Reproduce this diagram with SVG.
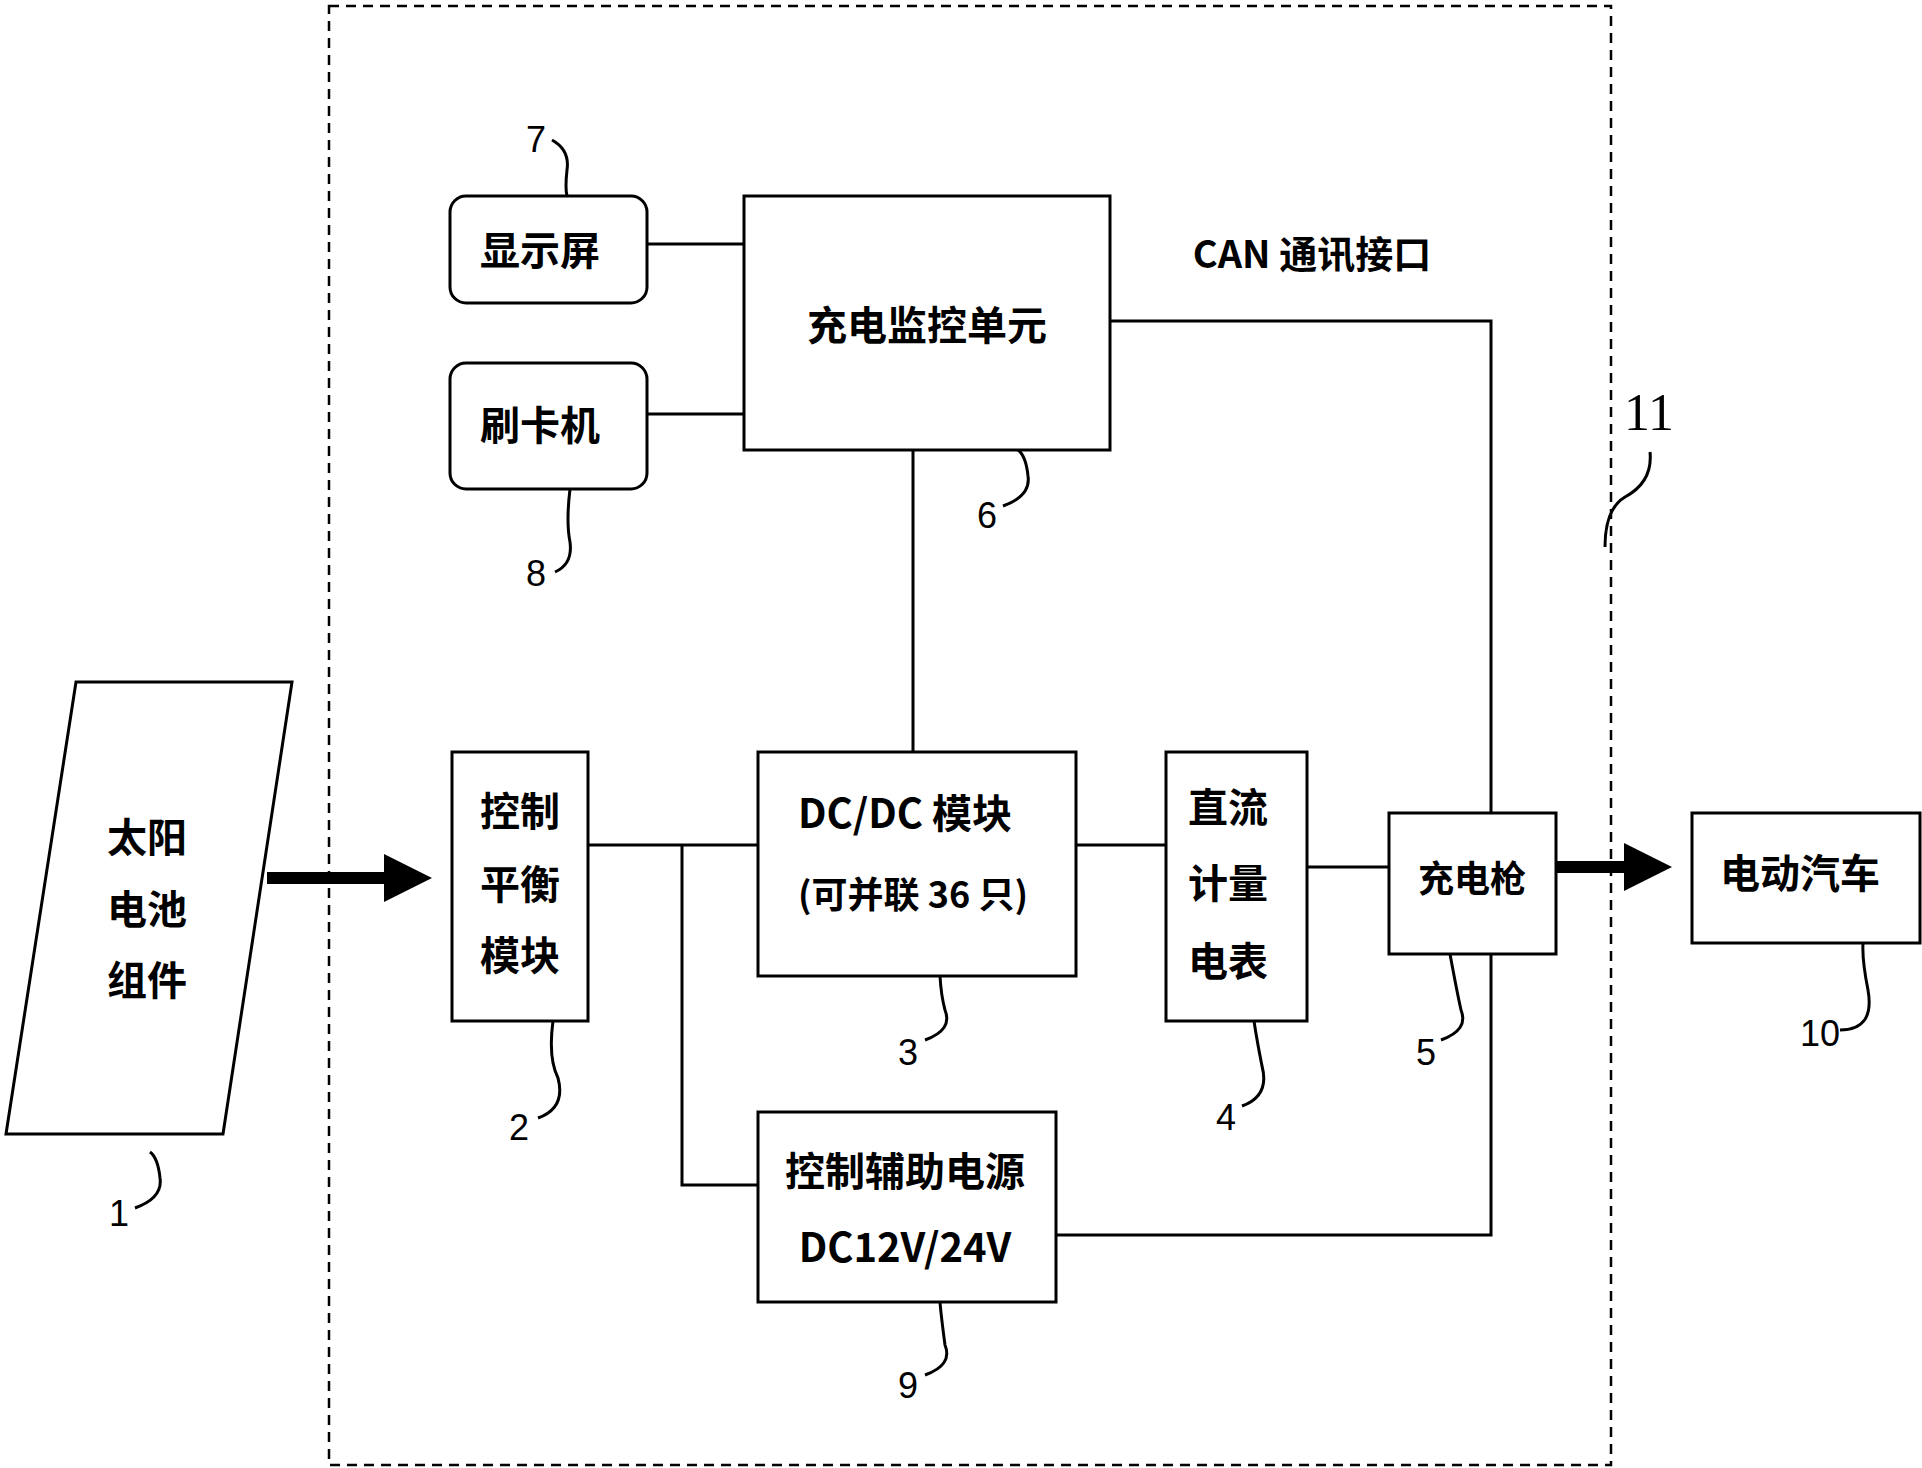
<svg xmlns="http://www.w3.org/2000/svg" width="1922" height="1468" viewBox="0 0 1922 1468">
<style>
.b{fill:#fff;stroke:#000;stroke-width:3}
.l{fill:none;stroke:#000;stroke-width:3}
.t{font-family:"Noto Sans CJK SC","Liberation Sans",sans-serif;font-weight:bold;font-size:40px;text-anchor:middle;fill:#000}
.n{font-family:"Liberation Sans",sans-serif;font-size:36px;text-anchor:middle;fill:#000}
</style>
<defs><marker id="a" markerWidth="4" markerHeight="4" refX="3" refY="2" orient="auto"><path d="M0,0L4,2L0,4z" fill="#000"/></marker></defs>
<rect width="1922" height="1468" fill="#fff"/>
<rect x="329" y="6" width="1282" height="1459" fill="none" stroke="#000" stroke-width="2.5" stroke-dasharray="10,7"/>
<g id="connectors">
<path class="l" d="M647,244H744M647,414H744M913,450V752M1110,321H1491V813M588,845H758M682,845V1185H758M1056,1235H1491V954M1076,845H1166M1307,867H1389"/>
<path d="M267,878H420" stroke="#000" stroke-width="12" marker-end="url(#a)"/>
<path d="M1556,867H1660" stroke="#000" stroke-width="12" marker-end="url(#a)"/>
<path class="l" d="M552,140q18,10 15,30q-2,18 0,26M555,572q18,-8 15,-30q-4,-20 0,-53M1003,506q28,-10 25,-30q-2,-20 -10,-26M1650,452q3,30 -25,45q-20,12 -20,50M135,1208q28,-10 25,-30q-2,-20 -10,-26M538,1118q28,-10 20,-40q-10,-20 -5,-57M925,1040q28,-10 20,-30q-4,-15 -5,-34M1242,1106q28,-10 20,-40q-5,-25 -8,-45M1441,1040q28,-10 20,-30q-4,-18 -11,-56M925,1375q28,-10 20,-30q-4,-30 -5,-43M1840,1030q35,0 28,-40q-6,-30 -5,-47"/>
</g>
<g id="n1"><polygon class="b" points="76,682 292,682 223,1134 6,1134"/><text class="t" x="147" y="852">太阳</text><text class="t" x="147" y="924">电池</text><text class="t" x="147" y="995">组件</text></g>
<g id="n7"><rect class="b" x="450" y="196" width="197" height="107" rx="16"/><text class="t" x="540" y="265">显示屏</text></g>
<g id="n8"><rect class="b" x="450" y="363" width="197" height="126" rx="16"/><text class="t" x="540" y="440">刷卡机</text></g>
<g id="n6"><rect class="b" x="744" y="196" width="366" height="254"/><text class="t" x="927" y="340">充电监控单元</text></g>
<g id="n2"><rect class="b" x="452" y="752" width="136" height="269"/><text class="t" x="520" y="826">控制</text><text class="t" x="520" y="899">平衡</text><text class="t" x="520" y="970">模块</text></g>
<g id="n3"><rect class="b" x="758" y="752" width="318" height="224"/><text class="t" x="905" y="828">DC/DC 模块</text><text class="t" x="913" y="908" style="font-size:36px">(可并联 36 只)</text></g>
<g id="n4"><rect class="b" x="1166" y="752" width="141" height="269"/><text class="t" x="1228" y="822">直流</text><text class="t" x="1228" y="898">计量</text><text class="t" x="1228" y="976">电表</text></g>
<g id="n5"><rect class="b" x="1389" y="813" width="167" height="141"/><text class="t" x="1472" y="892" style="font-size:36px">充电枪</text></g>
<g id="n10"><rect class="b" x="1692" y="813" width="228" height="130"/><text class="t" x="1800" y="888">电动汽车</text></g>
<g id="n9"><rect class="b" x="758" y="1112" width="298" height="190"/><text class="t" x="905" y="1186">控制辅助电源</text><text class="t" x="905" y="1262">DC12V/24V</text></g>
<text class="t" x="1312" y="268" style="font-size:38px">CAN 通讯接口</text>
<text class="n" x="536" y="152">7</text><text class="n" x="536" y="586">8</text><text class="n" x="987" y="528">6</text>
<text class="n" x="1649" y="430" style="font-size:52px;font-family:'Liberation Serif',serif">11</text>
<text class="n" x="119" y="1226">1</text><text class="n" x="519" y="1140">2</text><text class="n" x="908" y="1065">3</text><text class="n" x="1226" y="1130">4</text><text class="n" x="1426" y="1065">5</text><text class="n" x="908" y="1398">9</text><text class="n" x="1820" y="1046">10</text>
</svg>
